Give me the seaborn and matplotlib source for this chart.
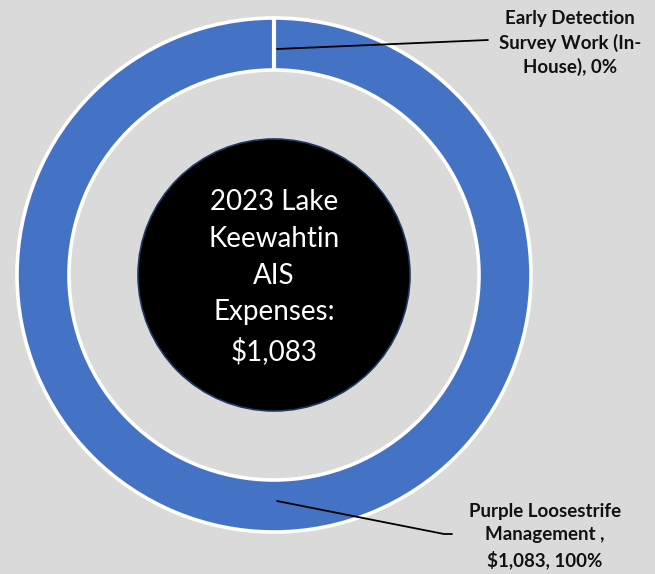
import numpy as np
import matplotlib
matplotlib.use("Agg")
import matplotlib.pyplot as plt
import seaborn as sns
from matplotlib.patches import Circle

# ---- data ----
categories = ["Early Detection\nSurvey Work (In-\nHouse), 0%",
              "Purple Loosestrife\nManagement ,\n$1,083, 100%"]
values = [0, 1083]
center_title = "2023 Lake\nKeewahtin\nAIS\nExpenses:\n$1,083"

sns.set_theme(style="white")
plt.rcParams['font.family'] = ['Lato', 'DejaVu Sans']

W, H = 655, 574
fig = plt.figure(figsize=(W / 100, H / 100), dpi=100)
fig.patch.set_facecolor("#dadada")
ax = fig.add_axes([0, 0, 1, 1])

cx, cy = 274, H - 275
R, ring_w = 257, 52
blue = sns.color_palette(["#4472C4"])[0]

wedges, _ = ax.pie(values, colors=[blue, blue], startangle=90, counterclock=False,
                   radius=R, center=(cx, cy), frame=True,
                   wedgeprops=dict(width=ring_w, edgecolor="white", linewidth=2.6))
ax.set_xlim(0, W)
ax.set_ylim(0, H)
ax.set_facecolor("#dadada")
ax.axis("off")

# white separator at the zero-value slice boundary
a0 = np.deg2rad(wedges[1].theta2)
ax.plot([cx + (R - ring_w) * np.cos(a0), cx + R * np.cos(a0)],
        [cy + (R - ring_w) * np.sin(a0), cy + R * np.sin(a0)],
        color="white", lw=3, zorder=4, solid_capstyle="butt")

ax.add_patch(Circle((cx, cy), 136, facecolor="black", edgecolor="#1f3864", lw=1.2, zorder=5))
ax.text(cx, cy - 2, center_title, ha="center", va="center", color="white",
        fontsize=20, linespacing=1.52, zorder=6)

# leader lines and labels
label_pos = [(570, H - 43), (545, H - 536)]
line_end = [[(488, H - 40)], [(444, H - 534), (452, H - 534)]]
r_lab = R - ring_w / 2 - 5
for w, lab, (tx, ty), ends in zip(wedges, categories, label_pos, line_end):
    ang = np.deg2rad((w.theta1 + w.theta2) / 2)
    sx = cx + r_lab * np.cos(ang) + 3
    sy = cy + r_lab * np.sin(ang)
    xs = [sx] + [e[0] for e in ends]
    ys = [sy] + [e[1] for e in ends]
    ax.plot(xs, ys, color="black", lw=1.3, zorder=7)
    ax.text(tx, ty, lab, ha="center", va="center", fontsize=13.5, fontweight="bold",
            color="#111111", linespacing=1.45, zorder=7)

fig.savefig("out.png", dpi=100, facecolor=fig.get_facecolor())
